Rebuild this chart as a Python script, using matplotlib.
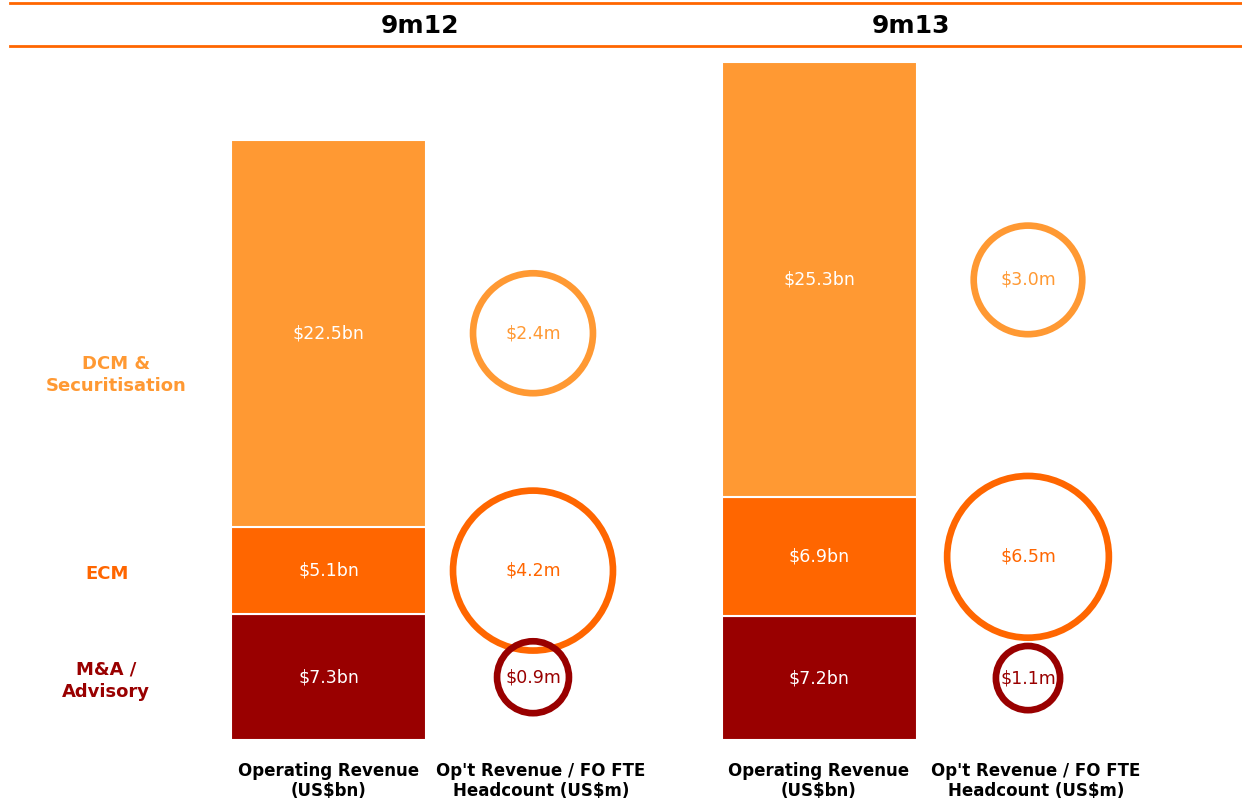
import matplotlib
matplotlib.use("Agg")
import matplotlib.pyplot as plt
from matplotlib.patches import Ellipse
from matplotlib.lines import Line2D

# data
periods = ['9m12', '9m13']
segments = ['M&A /\nAdvisory', 'ECM', 'DCM &\nSecuritisation']
seg_colors = ['#990000', '#FF6600', '#FF9933']
revenue = {'9m12': [7.3, 5.1, 22.5], '9m13': [7.2, 6.9, 25.3]}        # US$bn
per_fte = {'9m12': [0.9, 4.2, 2.4], '9m13': [1.1, 6.5, 3.0]}          # US$m

W, H = 1242, 805
ppb = 17.2           # pixels per US$bn
base_px = 740        # bar baseline (pixels from top)

bar_x = {'9m12': 328.5, '9m13': 819}
bar_w = 195
circ_x = {'9m12': 533, '9m13': 1028}
circ_k = {'9m12': 40.0, '9m13': 32.5}   # radius px = k * sqrt(value)
title_x = {'9m12': 420, '9m13': 911}

fig = plt.figure(figsize=(W / 100, H / 100), dpi=100)
ax = fig.add_axes([0, 0, 1, 1])
ax.set_xlim(0, W)
ax.set_ylim(-(H - base_px) / ppb, base_px / ppb)
ax.axis('off')


def px2y(py):
    return (base_px - py) / ppb


for p in periods:
    bottom = 0
    for i, v in enumerate(revenue[p]):
        ax.bar(bar_x[p], v, width=bar_w, bottom=bottom, color=seg_colors[i],
               edgecolor='white', linewidth=1.5)
        mid = bottom + v / 2
        ax.text(bar_x[p], mid, f'${v}bn', color='white', fontsize=12.5,
                ha='center', va='center')
        # ring sized by per-FTE revenue (area proportional)
        r = circ_k[p] * per_fte[p][i] ** 0.5
        ring = Ellipse((circ_x[p], mid), 2 * r - 4, (2 * r - 4) / ppb,
                       facecolor='none', edgecolor=seg_colors[i], linewidth=4.8,
                       zorder=4 if i == 0 else 3)
        ax.add_patch(ring)
        ax.text(circ_x[p], mid, f'${per_fte[p][i]}m', color=seg_colors[i],
                fontsize=12.5, ha='center', va='center', zorder=5)
        bottom += v

    ax.text(bar_x[p], px2y(781), 'Operating Revenue\n(US$bn)', fontsize=12,
            fontweight='bold', ha='center', va='center', linespacing=1.2)
    ax.text(circ_x[p] + 8, px2y(781), "Op't Revenue / FO FTE\nHeadcount (US$m)",
            fontsize=12, fontweight='bold', ha='center', va='center', linespacing=1.2)
    fig.text(title_x[p] / W, 1 - 26 / H, p, fontsize=18, fontweight='bold',
             ha='center', va='center')

# segment labels on the left
r12 = revenue['9m12']
label_y = [px2y(681), px2y(574), px2y(375)]
label_x = [106, 107, 116]
for i, s in enumerate(segments):
    ax.text(label_x[i], label_y[i], s, color=seg_colors[i], fontsize=13,
            fontweight='bold', ha='center', va='center', linespacing=1.35)

# header rules
for yy in (3, 46):
    fig.add_artist(Line2D([10 / W, 1], [1 - yy / H] * 2, color='#FF6600',
                          linewidth=2, transform=fig.transFigure))

fig.savefig('out.png', dpi=100)
